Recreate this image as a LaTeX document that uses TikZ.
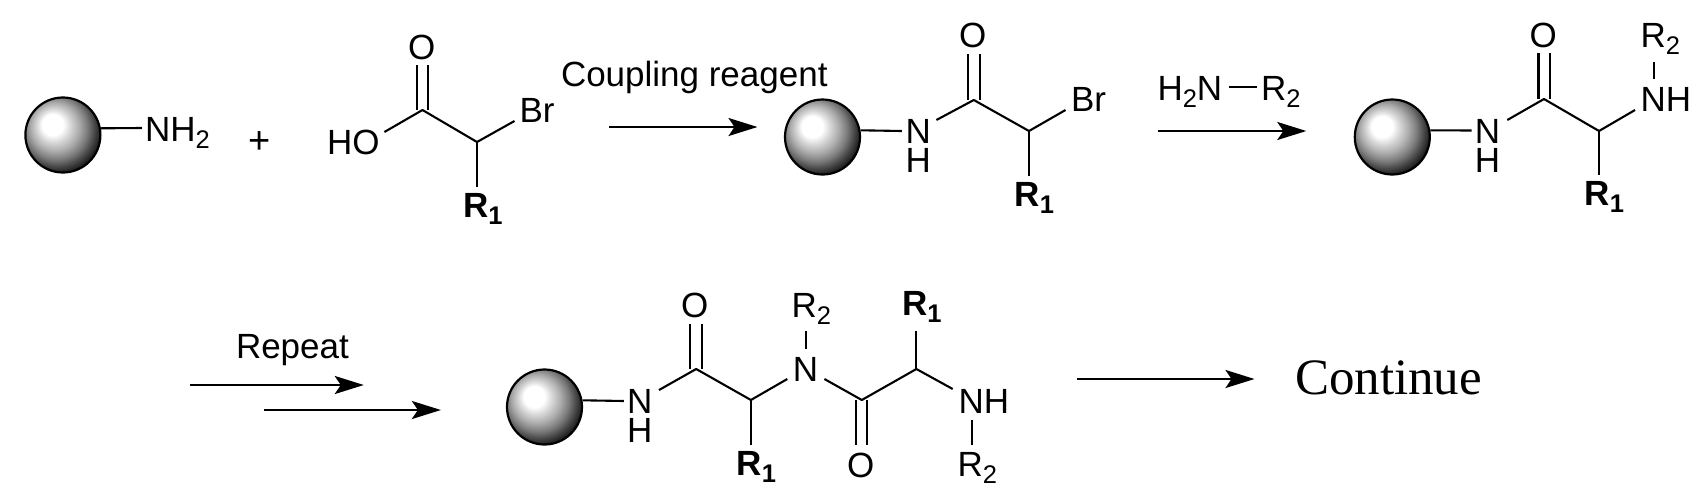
\documentclass[tikz,border=0pt]{standalone}
\usepackage{fontspec}
\setmainfont{Liberation Sans}
\newfontfamily\timesfont{Liberation Serif}
\usetikzlibrary{arrows.meta,shapes.geometric}
\pgfdeclareradialshading{sphereshade}{\pgfpoint{-8bp}{8bp}}{
  color(0bp)=(white); color(7bp)=(white); color(11bp)=(black!15);
  color(16bp)=(black!32); color(21bp)=(black!52); color(25bp)=(black!72); color(30bp)=(black!95); color(50bp)=(black)}
\newcommand{\subs}[1]{\raisebox{-7pt}{\fontsize{25.5}{26}\selectfont #1}}
\newcommand{\subb}[1]{\raisebox{-7pt}{\fontsize{25.5}{26}\selectfont\bfseries #1}}
\tikzset{
  x=1pt,y=-1pt,
  atom/.style={inner sep=0pt,outer sep=0pt,anchor=base west,font=\fontsize{35}{38}\selectfont},
  catom/.style={atom,anchor=base},
  boldatom/.style={atom,font=\fontsize{35}{38}\selectfont\bfseries},
  caption/.style={inner sep=0pt,outer sep=0pt,anchor=base west,font=\fontsize{35}{38}\selectfont},
  bond/.style={draw=black,line width=2.1pt},
  rxn/.style={draw=black,line width=2.3pt,-{Stealth[length=29pt,width=18pt,inset=6pt]}},
  sphere/.style={ellipse,draw=black,line width=2.2pt,minimum width=75pt,minimum height=75pt,inner sep=0pt,shading=sphereshade}
}
\begin{document}
\begin{tikzpicture}
\useasboundingbox (0,0) rectangle (1706,499);
% ---------- molecule 1
\node[sphere] (s1) at (62.9,135) {};
\coordinate (s1n) at (141.8,128);
\draw[bond] (s1.10) -- (s1n);
\node[atom] (nh2) at (145,141) {NH\subs{2}};
\node[inner sep=0pt,font=\fontsize{38}{38}\selectfont] (plus) at (260,142.5) {+};
% ---------- bromo acid
\coordinate (a1) at (422.5,110);
\coordinate (a2) at (477,142);
\coordinate (a1l) at (417,110);
\coordinate (a1r) at (428.4,110);
\coordinate (aol) at (417,65);
\coordinate (aor) at (428.4,65);
\coordinate (aho) at (384.4,132);
\coordinate (abr) at (514.5,121);
\coordinate (ar1) at (477,187);
\node[catom] (ao) at (421.8,59) {O};
\node[atom] (aholbl) at (327,154) {HO};
\node[atom] (abrlbl) at (519.5,122) {Br};
\node[boldatom] (ar1lbl) at (463,217) {R\subb{1}};
\draw[bond] (a1l) -- (aol) (a1r) -- (aor);
\draw[bond,line join=round] (aho) -- (a1) -- (a2) -- (abr);
\draw[bond] (a2) -- (ar1);
% ---------- arrow 1
\coordinate (r1a) at (609,127);
\coordinate (r1b) at (757.5,127);
\draw[rxn] (r1a) -- (r1b);
\node[caption] (coupling) at (561,86) {Coupling reagent};
% ---------- molecule 2
\node[sphere] (s2) at (822.5,137) {};
\coordinate (s2n) at (901.8,131);
\draw[bond] (s2.10) -- (s2n);
\node[catom] (m2n) at (918.2,143) {N};
\node[catom] (m2h) at (918.2,172) {H};
\coordinate (m2ne) at (936.4,120);
\coordinate (m2c1) at (973.8,100);
\coordinate (m2c2) at (1029,131);
\coordinate (m2l) at (968.4,100);
\coordinate (m2r) at (980,100);
\coordinate (m2ol) at (968.4,54);
\coordinate (m2or) at (980,54);
\coordinate (m2br) at (1065.5,110);
\coordinate (m2rb) at (1029,176);
\node[catom] (m2o) at (972.7,47) {O};
\node[atom] (m2brlbl) at (1071,111) {Br};
\node[boldatom] (m2r1) at (1014.5,206) {R\subb{1}};
\draw[bond] (m2l) -- (m2ol) (m2r) -- (m2or);
\draw[bond,line join=round] (m2ne) -- (m2c1) -- (m2c2) -- (m2br);
\draw[bond] (m2c2) -- (m2rb);
% ---------- arrow 2
\coordinate (r2a) at (1157.6,131);
\coordinate (r2b) at (1306.3,131);
\draw[rxn] (r2a) -- (r2b);
\node[atom] (h2n) at (1157.5,100) {H\subs{2}N};
\coordinate (h2a) at (1228.5,87);
\coordinate (h2b) at (1256.7,87);
\draw[bond] (h2a) -- (h2b);
\node[atom] (h2r) at (1261,100) {R\subs{2}};
% ---------- molecule 3
\node[sphere] (s3) at (1392.3,137) {};
\coordinate (s3n) at (1471.7,130.5);
\draw[bond] (s3.10) -- (s3n);
\node[catom] (m3n) at (1487.5,143) {N};
\node[catom] (m3h) at (1487.5,172) {H};
\coordinate (m3ne) at (1507.3,120);
\coordinate (m3c1) at (1544,99);
\coordinate (m3c2) at (1599,131);
\coordinate (m3l) at (1538.5,99);
\coordinate (m3r) at (1550,99);
\coordinate (m3ol) at (1538.5,53);
\coordinate (m3or) at (1550,53);
\coordinate (m3nh) at (1635,110);
\coordinate (m3rb) at (1599,175);
\coordinate (m3ra) at (1654,62);
\coordinate (m3rc) at (1654,79);
\node[catom] (m3o) at (1543.3,47) {O};
\node[atom] (m3nhlbl) at (1640.5,111) {NH};
\node[atom] (m3r2) at (1640.5,47) {R\subs{2}};
\node[boldatom] (m3r1) at (1584.5,205) {R\subb{1}};
\draw[bond] (m3l) -- (m3ol) (m3r) -- (m3or);
\draw[bond,line join=round] (m3ne) -- (m3c1) -- (m3c2) -- (m3nh);
\draw[bond] (m3c2) -- (m3rb);
\draw[bond] (m3ra) -- (m3rc);
% ---------- repeat arrows
\coordinate (r3a) at (190,385);
\coordinate (r3b) at (363.8,385);
\draw[rxn] (r3a) -- (r3b);
\coordinate (r4a) at (263.5,410);
\coordinate (r4b) at (440.9,410);
\draw[rxn] (r4a) -- (r4b);
\node[caption] (repeat) at (236,358) {Repeat};
% ---------- molecule 4
\node[sphere] (s4) at (544.5,407) {};
\coordinate (s4n) at (623.8,401);
\draw[bond] (s4.10) -- (s4n);
\node[catom] (m4n) at (639.8,413) {N};
\node[catom] (m4h) at (639.8,442) {H};
\coordinate (m4ne) at (659,390);
\coordinate (m4c1) at (696.2,369);
\coordinate (m4c2) at (750.9,400);
\coordinate (m4l) at (690,369);
\coordinate (m4r) at (702,369);
\coordinate (m4ol) at (690,324);
\coordinate (m4or) at (702,324);
\node[catom] (m4o) at (694.7,317) {O};
\coordinate (m4n2w) at (787.3,379);
\coordinate (m4n2e) at (824.4,379);
\coordinate (m4rb) at (750.9,445);
\coordinate (m4n2a) at (806,331);
\coordinate (m4n2b) at (806,349);
\node[catom] (m4n2) at (805.5,381) {N};
\node[atom] (m4r2a) at (791.5,317) {R\subs{2}};
\node[boldatom] (m4r1a) at (736.5,475) {R\subb{1}};
\coordinate (m4c3) at (861.8,400);
\coordinate (m4l3) at (855.6,400);
\coordinate (m4r3) at (867.3,400);
\coordinate (m4ol3) at (855.6,445);
\coordinate (m4or3) at (867.3,445);
\node[catom] (m4o3) at (860.7,477) {O};
\coordinate (m4c4) at (916.4,369);
\coordinate (m4c4u) at (916.4,331);
\coordinate (m4nhw) at (952.7,389);
\node[boldatom] (m4r1b) at (902,315) {R\subb{1}};
\node[atom] (m4nh) at (958.5,413) {NH};
\coordinate (m4nha) at (972,420);
\coordinate (m4nhb) at (972,445);
\node[atom] (m4r2b) at (957.5,476) {R\subs{2}};
\draw[bond] (m4l) -- (m4ol) (m4r) -- (m4or);
\draw[bond,line join=round] (m4ne) -- (m4c1) -- (m4c2) -- (m4n2w);
\draw[bond] (m4c2) -- (m4rb);
\draw[bond] (m4n2a) -- (m4n2b);
\draw[bond,line join=round] (m4n2e) -- (m4c3) -- (m4c4) -- (m4nhw);
\draw[bond] (m4l3) -- (m4ol3) (m4r3) -- (m4or3);
\draw[bond] (m4c4) -- (m4c4u);
\draw[bond] (m4nha) -- (m4nhb);
% ---------- final arrow
\coordinate (r5a) at (1077,379);
\coordinate (r5b) at (1254.5,379);
\draw[rxn] (r5a) -- (r5b);
\node[inner sep=0pt,outer sep=0pt,anchor=base west,font=\fontsize{51}{54}\selectfont\timesfont] (cont) at (1295,394) {Continue};
\end{tikzpicture}
\end{document}
